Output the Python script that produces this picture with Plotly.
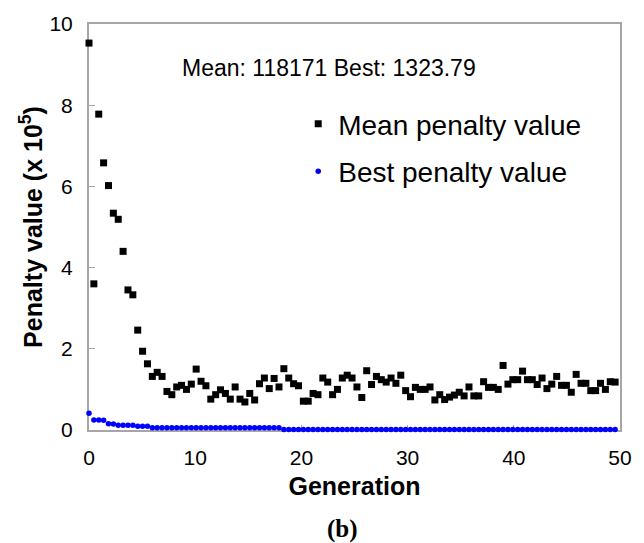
import plotly.graph_objects as go

# Population statistics per sampled generation (penalty in units of 1e5)
mean_penalty = [
    9.53, 3.60, 7.78, 6.58, 6.02, 5.34, 5.19, 4.40, 3.45, 3.33,
    2.46, 1.94, 1.63, 1.32, 1.42, 1.32, 0.95, 0.87, 1.06, 1.10,
    1.00, 1.13, 1.50, 1.20, 1.09, 0.76, 0.87, 0.99, 0.90, 0.76,
    1.06, 0.76, 0.69, 0.90, 0.74, 1.14, 1.28, 1.02, 1.27, 1.06,
    1.51, 1.28, 1.14, 1.09, 0.71, 0.71, 0.90, 0.87, 1.28, 1.18,
    0.87, 1.00, 1.28, 1.35, 1.28, 1.06, 0.80, 1.46, 1.12, 1.32,
    1.24, 1.18, 1.28, 1.15, 1.35, 0.97, 0.82, 1.05, 1.00, 1.00,
    1.06, 0.74, 0.87, 0.75, 0.81, 0.86, 0.93, 0.84, 1.06, 0.84,
    0.84, 1.19, 1.05, 1.05, 1.00, 1.59, 1.13, 1.24, 1.24, 1.45,
    1.24, 1.24, 1.12, 1.28, 1.02, 1.13, 1.32, 1.10, 1.10, 0.93,
    1.37, 1.15, 1.15, 0.97, 0.97, 1.15, 1.00, 1.19, 1.18,
]

best_penalty = [
    0.41, 0.245, 0.245, 0.24, 0.155, 0.15, 0.115, 0.115, 0.115, 0.115,
    0.09, 0.09, 0.09, 0.055, 0.055, 0.055, 0.055, 0.055, 0.055, 0.055,
    0.055, 0.055, 0.055, 0.055, 0.055, 0.055, 0.055, 0.055, 0.055, 0.055,
    0.055, 0.055, 0.055, 0.055, 0.055, 0.055, 0.055, 0.055, 0.055, 0.055,
    0.0132, 0.0132, 0.0132, 0.0132, 0.0132, 0.0132, 0.0132, 0.0132, 0.0132, 0.0132,
    0.0132, 0.0132, 0.0132, 0.0132, 0.0132, 0.0132, 0.0132, 0.0132, 0.0132, 0.0132,
    0.0132, 0.0132, 0.0132, 0.0132, 0.0132, 0.0132, 0.0132, 0.0132, 0.0132, 0.0132,
    0.0132, 0.0132, 0.0132, 0.0132, 0.0132, 0.0132, 0.0132, 0.0132, 0.0132, 0.0132,
    0.0132, 0.0132, 0.0132, 0.0132, 0.0132, 0.0132, 0.0132, 0.0132, 0.0132, 0.0132,
    0.0132, 0.0132, 0.0132, 0.0132, 0.0132, 0.0132, 0.0132, 0.0132, 0.0132, 0.0132,
    0.0132, 0.0132, 0.0132, 0.0132, 0.0132, 0.0132, 0.0132, 0.0132, 0.0132,
]

# Samples are evenly spaced over the 50 generations
n_samples = len(mean_penalty)
generation = [i * 50 / n_samples for i in range(n_samples)]

x_ticks = [0, 10, 20, 30, 40, 50]
y_ticks = [0, 2, 4, 6, 8, 10]
summary_text = "Mean: 118171 Best: 1323.79"

FONT = "Liberation Sans, Arial, sans-serif"
AXIS_GREY = "#a6a6a6"

fig = go.Figure()
fig.add_trace(go.Scatter(
    x=generation, y=mean_penalty, mode="markers", name="Mean penalty value",
    marker=dict(symbol="square", size=7, color="black"),
    cliponaxis=False, legendgroup="mean",
))
fig.add_trace(go.Scatter(
    x=generation, y=best_penalty, mode="markers", name="Best penalty value",
    marker=dict(symbol="circle", size=5.5, color="#0000ff"),
    cliponaxis=False, legendgroup="best",
))

axis_common = dict(
    showgrid=False, zeroline=False, showline=True, mirror=True,
    linecolor=AXIS_GREY, linewidth=2, ticks="inside", tickcolor=AXIS_GREY,
    tickwidth=1, tickfont=dict(family=FONT, size=21, color="black"),
    layer="below traces",
)

fig.update_layout(
    width=644, height=543,
    margin=dict(l=89, r=24, t=22, b=113),
    paper_bgcolor="white", plot_bgcolor="white",
    font=dict(family=FONT, color="black"),
    xaxis=dict(
        range=[0, 50], tickvals=x_ticks, ticktext=[str(v) for v in x_ticks],
        ticklen=5, ticklabelstandoff=8,
        title=dict(text="<b>Generation</b>", font=dict(family=FONT, size=25),
                   standoff=9),
        **axis_common,
    ),
    yaxis=dict(
        range=[0, 10], tickvals=y_ticks, ticktext=[str(v) for v in y_ticks],
        ticklen=6, ticklabelstandoff=10,
        title=dict(text="<b>Penalty value (x 10<sup>5</sup>)</b>",
                   font=dict(family=FONT, size=25), standoff=0),
        **axis_common,
    ),
    legend=dict(
        x=0.394, y=0.815, xanchor="left", yanchor="top",
        font=dict(family=FONT, size=28, color="black"),
        bgcolor="rgba(0,0,0,0)", traceorder="grouped", tracegroupgap=8,
    ),
    annotations=[
        dict(text=summary_text, xref="paper", yref="paper", x=0.171, y=0.892,
             xanchor="left", yanchor="middle", showarrow=False,
             font=dict(family=FONT, size=23, color="black")),
        dict(text="<b>(b)</b>", xref="paper", yref="paper", x=0.478, y=-0.245,
             xanchor="center", yanchor="middle", showarrow=False,
             font=dict(family="Liberation Serif, Times New Roman, serif",
                       size=25, color="black")),
    ],
)

fig.write_html("out.html")
